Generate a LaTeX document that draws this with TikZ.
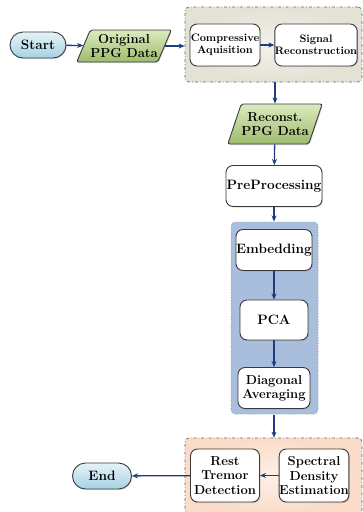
\documentclass[tikz,border=0pt]{standalone}
\usetikzlibrary{shapes.geometric,shapes.misc,arrows.meta,shadows,positioning}
\definecolor{navy}{HTML}{1F3C80}
\definecolor{edge}{HTML}{3A3A3A}
\definecolor{grayfill}{HTML}{E4E1D5}
\definecolor{grayin}{HTML}{F3F1EA}
\definecolor{bluefill}{HTML}{A9BEDD}
\definecolor{peachfill}{HTML}{FADCC8}
\definecolor{peachin}{HTML}{FDF0E7}
\definecolor{greentop}{HTML}{DCEBC0}
\definecolor{greenbot}{HTML}{9DBB6C}
\definecolor{bluetop}{HTML}{E6F3F9}
\definecolor{bluebot}{HTML}{A6D2E2}
\tikzset{
  proc/.style={draw=edge, line width=0.9pt, fill=white, rounded corners=7pt, align=center,
    font=\bfseries, inner sep=0pt, drop shadow={shadow xshift=1pt, shadow yshift=-1pt, opacity=0.25}},
  data/.style={trapezium, trapezium left angle=60, trapezium right angle=120, draw=edge,
    line width=0.9pt, rounded corners=2pt, top color=greentop, bottom color=greenbot,
    align=center, font=\bfseries, inner sep=0pt, trapezium stretches=true,
    drop shadow={shadow xshift=1pt, shadow yshift=-1pt, opacity=0.25}},
  term/.style={rounded rectangle, draw=edge, line width=0.9pt, top color=bluetop, bottom color=bluebot,
    font=\bfseries, inner sep=1pt, drop shadow={shadow xshift=1pt, shadow yshift=-1pt, opacity=0.25}},
  group/.style={rectangle, rounded corners=4pt, draw=gray!80!black, line width=0.7pt, inner sep=0pt},
  flow/.style={draw=navy, line width=1.3pt, -{Stealth[length=6pt,width=5pt]}},
  big/.style={font=\bfseries\fontsize{13.6}{15}\selectfont},
  small/.style={font=\bfseries\fontsize{10.8}{12.5}\selectfont},
  mid/.style={font=\bfseries\fontsize{13}{14.2}\selectfont}
}
\begin{document}
\begin{tikzpicture}[x=1pt,y=-1pt]
\useasboundingbox (0,0) rectangle (363,512);
% group boxes
\node[group, dash dot, inner color=grayin, outer color=grayfill, minimum width=177pt, minimum height=75pt] (gbox) at (273.5,44.5) {};
\node[group, dotted, line width=1pt, fill=bluefill, draw=gray!70, minimum width=87pt, minimum height=192pt] (bbox) at (274.5,318) {};
\node[group, dash dot, inner color=peachin, outer color=peachfill, minimum width=177pt, minimum height=76pt] (pbox) at (273.5,476) {};
% nodes
\node[term, minimum width=58pt, minimum height=26pt, big] (start) at (38,45) {Start};
\node[data, minimum width=86pt, minimum height=32pt, mid] (orig) at (124,46) {Original\\PPG Data};
\node[proc, minimum width=70pt, minimum height=42pt, small] (ca) at (225,45) {Compressive\\Aquisition};
\node[proc, minimum width=77pt, minimum height=42pt, small] (sr) at (316,45) {Signal\\Reconstruction};
\node[data, minimum width=94pt, minimum height=40pt, mid] (recon) at (275,124) {Reconst.\\PPG Data};
\node[proc, minimum width=96pt, minimum height=41pt, big] (pre) at (274,186) {PreProcessing};
\node[proc, minimum width=76pt, minimum height=41pt, big] (emb) at (274,250) {Embedding};
\node[proc, minimum width=68pt, minimum height=40pt, big] (pca) at (274,320) {PCA};
\node[proc, minimum width=72pt, minimum height=41pt, mid] (diag) at (274,388) {Diagonal\\Averaging};
\node[proc, minimum width=69pt, minimum height=53pt, mid] (rtd) at (225,475.5) {Rest\\Tremor\\Detection};
\node[proc, minimum width=69pt, minimum height=53pt, mid] (sde) at (314,475.5) {Spectral\\Density\\Estimation};
\node[term, minimum width=61pt, minimum height=26pt, big] (end) at (102,476) {End};
% connectors
\draw[flow] (start) -- (orig);
\draw[flow] (orig.east) -- (orig.east -| gbox.west);
\draw[flow] (ca) -- (sr);
\draw[flow] (recon.north |- gbox.south) -- (recon.north);
\draw[flow] (recon) -- (pre);
\draw[flow] (pre) -- (pre.south |- bbox.north);
\draw[flow] (emb) -- (pca);
\draw[flow] (pca) -- (diag);
\draw[flow] (diag.south |- bbox.south) -- (diag.south |- pbox.north);
\draw[flow] (sde) -- (rtd);
\draw[flow] (rtd) -- (end);
\end{tikzpicture}
\end{document}
